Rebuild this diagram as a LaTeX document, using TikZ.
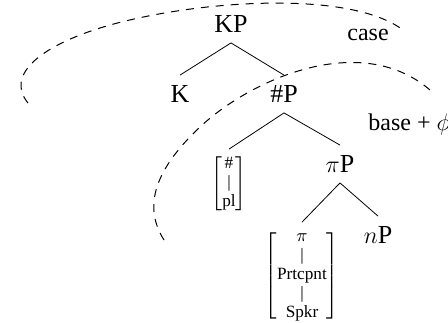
\documentclass[tikz,border=0pt]{standalone}
\usepackage{amsmath}
\usepackage{fontspec}
\setmainfont{Liberation Serif}
\usepackage{tikz}

\newcommand{\fbar}{\text{|}}

\begin{document}
\begin{tikzpicture}[x=0.5pt,y=-0.5pt,
  cat/.style = {inner sep=5pt, font=\fontsize{13}{15}\selectfont},
  feat/.style = {inner sep=3pt, font=\fontsize{8.6}{9.5}\selectfont},
  lbl/.style = {inner sep=0pt, font=\fontsize{12}{14}\selectfont},
  span/.style = {dash pattern=on 4pt off 3.5pt, line width=0.5pt}]
\useasboundingbox (0,0) rectangle (448,322);
\node[cat] (kp) at (231,24) {KP};
\node[cat] (k) at (180,94) {K};
\node[cat] (np) at (284,94) {\#P};
\node[feat] (num) at (229,184) {$\left[\begin{array}{@{}c@{}}\text{\#}\\ \fbar\\ \text{pl}\end{array}\right]$};
\node[cat] (pip) at (340,164) {$\pi$P};
\node[feat] (pers) at (302,276) {$\left[\begin{array}{@{}c@{}}\pi\\ \fbar\\ \text{Prtcpnt}\\ \fbar\\ \text{Spkr}\end{array}\right]$};
\node[cat] (nnp) at (378,235) {$n$P};
\node[lbl] (case) at (368,35) {case};
\node[lbl, anchor=west] (base) at (368,124) {base + $\phi$};
\draw (kp.south) -- (k.north);
\draw (kp.south) -- (np.north);
\draw (np.south) -- (num.north);
\draw (np.south) -- (pip.north);
\draw (pip.south) -- (pers.north);
\draw (pip.south) -- (nnp.north);
\draw[span] (28,103) .. controls (5,75) and (40,45) .. (110,25)
  .. controls (200,0) and (350,-10) .. (403,30);
\draw[span] (164,240) .. controls (145,210) and (150,174) .. (200,127)
  .. controls (250,80) and (360,30) .. (430,90);
\end{tikzpicture}
\end{document}
